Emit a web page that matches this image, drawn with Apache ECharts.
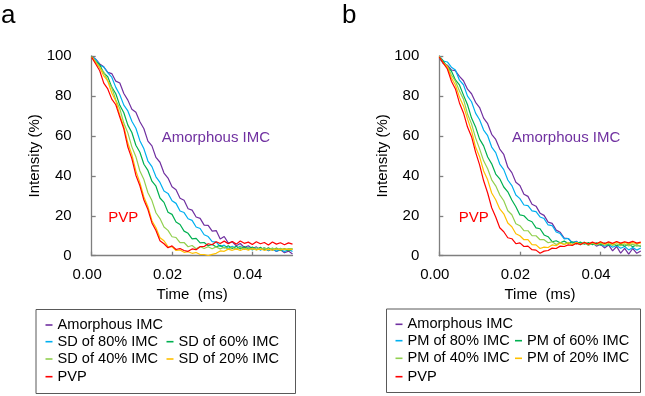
<!DOCTYPE html>
<html><head><meta charset="utf-8">
<script src="https://cdn.jsdelivr.net/npm/echarts@6/dist/echarts.min.js"></script>
<style>html,body{margin:0;padding:0;background:#fff}#c{width:645px;height:396px}</style>
</head><body><div id="c"></div>
<script>
// ---- data ----
const time = [0,0.001,0.002,0.003,0.004,0.005,0.006,0.007,0.008,0.009,0.010,0.011,0.012,0.013,0.014,0.015,0.016,0.017,0.018,0.019,0.020,0.021,0.022,0.023,0.024,0.025,0.026,0.027,0.028,0.029,0.030,0.031,0.032,0.033,0.034,0.035,0.036,0.037,0.038,0.039,0.040,0.041,0.042,0.043,0.044,0.045,0.046,0.047,0.048,0.049,0.050];

const namesA = ['Amorphous IMC','SD of 80% IMC','SD of 60% IMC','SD of 40% IMC','SD of 20% IMC','PVP'];
const namesB = ['Amorphous IMC','PM of 80% IMC','PM of 60% IMC','PM of 40% IMC','PM of 20% IMC','PVP'];

const aAmorph = [100,98.4,96.0,94.6,91.8,91.2,87.4,86.5,81.2,77.9,73.3,71.8,67.1,63.6,57.4,55.0,49.2,46.8,41.4,38.9,34.5,33.0,28.8,27.8,23.5,22.8,19.4,18.7,15.3,15.2,12.3,12.6,8.4,9.6,6.3,7.0,5.0,6.1,4.1,5.0,3.5,4.4,3.0,3.9,2.5,3.5,2.1,3.0,1.5,2.3,0.9];
const aSD80 = [99.6,98.3,95.4,94.5,91.6,89.4,84.3,80.6,75.4,72.5,67.3,63.8,57.6,53.5,47.4,44.6,39.5,36.7,32.4,31.2,27.5,26.2,22.4,21.6,18.5,17.7,14.4,13.6,10.5,9.6,7.0,6.8,4.6,5.3,3.6,4.7,3.5,4.8,3.2,4.4,2.9,4.1,2.8,3.9,2.6,3.7,2.2,3.4,2.0,3.3,2.1];
const aSD60 = [99.8,97.2,95.6,91.5,89.6,84.4,81.1,75.3,71.6,65.4,61.7,55.3,51.8,45.8,42.7,37.3,34.8,28.9,26.7,21.8,20.7,16.9,15.6,12.3,11.2,8.4,8.7,6.4,6.6,5.0,5.7,4.4,5.2,3.9,5.0,3.6,4.7,3.4,4.6,3.2,4.4,3.0,4.2,2.9,4.0,2.7,3.8,2.6,3.6,2.5,3.4];
const aSD40 = [99.5,97.4,94.0,92.0,87.5,84.1,78.0,73.6,66.4,61.5,54.5,49.6,42.4,38.1,31.5,27.6,21.5,18.6,14.4,12.7,9.5,9.1,6.5,6.6,4.5,5.1,3.5,4.6,3.6,4.5,3.5,4.4,3.4,4.3,3.3,4.2,3.2,4.3,3.1,4.1,3.0,4.0,3.1,3.9,2.9,3.8,3.0,3.7,2.9,3.6,3.5];
const aSD20 = [99.7,96.6,94.4,90.0,87.5,81.5,77.5,70.4,64.6,56.4,50.6,42.5,36.6,29.4,24.5,17.5,14.0,9.0,7.5,4.6,4.4,2.6,2.9,1.7,2.0,1.2,1.6,0.6,0.6,0.1,0.7,1.2,2.4,2.2,3.3,2.7,3.4,2.6,3.5,2.8,3.6,2.9,3.4,2.7,3.3,2.8,3.5,2.9,3.4,3.0,3.2];
const aPVP = [99.3,96.0,92.6,86.4,83.5,78.4,75.6,69.4,63.5,54.4,48.6,40.3,35.0,27.9,23.1,16.4,12.6,7.5,6.0,4.0,4.9,3.1,3.6,2.6,2.2,3.4,3.0,4.5,4.6,6.0,5.5,7.0,6.1,7.3,6.0,7.1,5.8,7.4,6.2,6.8,5.6,7.0,6.0,6.6,5.4,6.9,5.8,6.5,5.5,6.4,5.8];

const bAmorph = [99.0,96.2,95.4,93.0,92.6,89.8,87.6,83.4,81.1,76.8,74.2,68.9,66.1,60.8,58.2,53.4,50.7,44.3,41.6,36.8,35.2,30.8,29.7,25.8,24.8,21.3,20.2,16.8,16.2,12.8,11.7,8.8,8.6,6.4,7.2,5.5,6.6,5.4,6.5,4.8,5.7,3.9,5.4,2.4,4.6,1.3,3.7,0.8,3.6,1.2,2.4];
const bPM80 = [100,97.5,97.0,94.4,93.0,87.9,85.6,79.9,77.1,71.4,68.1,62.9,60.1,54.4,51.6,45.9,43.1,37.9,35.1,30.4,28.6,25.4,25.1,22.4,22.1,19.4,18.6,15.4,15.1,11.9,11.1,8.4,8.6,6.4,7.1,5.7,6.8,5.4,6.6,5.2,6.1,4.7,5.6,4.2,5.1,3.7,4.6,2.9,4.1,2.8,3.9];
const bPM60 = [99.6,97.4,94.5,92.5,88.0,85.5,80.4,75.6,68.9,64.5,58.4,55.0,49.4,46.0,40.9,38.5,34.4,32.0,27.9,24.5,20.4,20.0,17.9,17.0,13.9,13.5,10.4,9.5,7.0,7.5,6.5,7.3,6.1,7.0,5.9,6.8,5.7,6.6,5.5,6.5,5.3,6.3,5.1,6.1,5.0,5.8,4.7,5.7,4.5,5.5,4.6];
const bPM40 = [99.4,96.6,94.9,90.5,87.4,82.5,78.4,71.0,66.0,59.0,53.5,47.5,43.5,38.0,35.0,30.5,27.5,22.5,20.5,16.0,15.0,12.5,12.5,10.0,10.0,8.0,8.0,6.5,7.0,5.6,6.5,5.7,6.6,5.4,6.5,5.5,6.4,5.3,6.3,5.4,6.2,5.2,6.1,5.1,6.0,5.0,5.9,4.9,5.8,4.8,5.2];
const bPM20 = [99.8,96.5,94.5,89.0,85.5,79.4,75.0,68.5,62.6,54.4,49.6,42.4,38.0,31.4,28.0,23.4,21.0,16.4,14.5,11.0,10.0,8.0,8.0,5.5,5.4,3.6,4.3,4.1,5.4,5.0,6.4,5.6,6.5,5.6,6.6,5.7,6.7,5.8,6.6,5.9,6.8,5.7,6.6,5.8,6.9,5.9,6.7,5.8,6.6,5.9,6.4];
const bPVP = [99.5,96.4,93.5,87.4,83.5,76.5,71.5,64.4,59.6,51.9,45.5,37.5,31.4,24.0,19.4,14.0,12.0,9.0,8.5,6.0,6.4,4.6,4.8,3.0,2.8,1.2,2.3,2.6,3.8,3.6,4.8,4.6,5.4,5.1,6.2,5.6,6.6,5.8,6.8,6.0,7.0,6.1,6.9,6.2,7.1,6.3,7.0,6.4,7.2,6.3,6.8];

const xTicks = [0, 0.02, 0.04];
const xTickLabels = ['0.00', '0.02', '0.04'];
const yTicks = [0, 20, 40, 60, 80, 100];

// ---- styles ----
const colors = ['#7030A0','#00B0F0','#00B050','#92D050','#FFC000','#FF0000'];
const FONT = 'Liberation Sans, Arial, sans-serif';
const valsA = [aAmorph,aSD80,aSD60,aSD40,aSD20,aPVP];
const valsB = [bAmorph,bPM80,bPM60,bPM40,bPM20,bPVP];

function mkSeries(names, vals, gi){
  return names.map((n,i)=>({
    name:n, type:'line', xAxisIndex:gi, yAxisIndex:gi, showSymbol:false, symbol:'none',
    animation:false, color:colors[i], lineStyle:{width:1.2, color:colors[i]},
    data: time.map((t,k)=>[t, vals[i][k]])
  }));
}
const axisCol = '#7f7f7f';
function xAx(gi){
  return {type:'value', gridIndex:gi, min:0, max:0.05,
    name:'Time  (ms)', nameLocation:'middle', nameGap:31,
    nameTextStyle:{fontFamily:FONT, fontSize:15, color:'#000'},
    axisLine:{lineStyle:{color:axisCol, width:1.3}},
    axisTick:{inside:true, length:4, customValues:xTicks, lineStyle:{color:axisCol, width:1.3}},
    axisLabel:{customValues:xTicks, formatter:v=>xTickLabels[xTicks.findIndex(x=>Math.abs(x-v)<1e-9)] ?? '',
      fontFamily:FONT, fontSize:15, color:'#000', margin:12, padding:[0,9,0,0]},
    splitLine:{show:false}};
}
function yAx(gi){
  return {type:'value', gridIndex:gi, min:0, max:100, interval:20,
    name:'Intensity (%)', nameLocation:'middle', nameGap:49,
    nameTextStyle:{fontFamily:FONT, fontSize:15, color:'#000'},
    axisLine:{show:true, lineStyle:{color:axisCol, width:1.3}},
    axisTick:{show:true, inside:true, length:4, lineStyle:{color:axisCol, width:1.3}},
    axisLabel:{fontFamily:FONT, fontSize:15, color:'#000', margin:20},
    splitLine:{show:false}};
}
function leg(name, left, top){
  return {data:[name], left:left, top:top, padding:0, itemWidth:7, itemHeight:1.6, icon:'rect',
    selectedMode:false, textStyle:{fontFamily:FONT, fontSize:14.6, color:'#000', lineHeight:16}};
}
const rowsA = [317, 333.7, 351, 368.7];
const rowsB = [316.3, 332.7, 350.3, 368.7];
const legends = [
  leg(namesA[0],45.5,rowsA[0]), leg(namesA[1],45.5,rowsA[1]), leg(namesA[2],166.5,rowsA[1]),
  leg(namesA[3],45.5,rowsA[2]), leg(namesA[4],166.5,rowsA[2]), leg(namesA[5],45.5,rowsA[3]),
  leg(namesB[0],395.5,rowsB[0]), leg(namesB[1],395.5,rowsB[1]), leg(namesB[2],515,rowsB[1]),
  leg(namesB[3],395.5,rowsB[2]), leg(namesB[4],515,rowsB[2]), leg(namesB[5],395.5,rowsB[3])
];
function txt(x,y,s,fill,size,va){
  return {type:'text', x:x, y:y, silent:true, style:{text:s, fill:fill, font:size+'px '+FONT, verticalAlign:va||'middle', align:'left'}};
}
const chart = echarts.init(document.getElementById('c'), null, {renderer:'canvas'});
chart.setOption({
  animation:false,
  backgroundColor:'#fff',
  grid:[
    {left:91.7, top:56, width:200.8, height:199.7, containLabel:false},
    {left:439.3, top:56, width:201.5, height:199.7, containLabel:false}
  ],
  xAxis:[xAx(0), xAx(1)],
  yAxis:[yAx(0), yAx(1)],
  legend: legends,
  series:[...mkSeries(namesA, valsA, 0), ...mkSeries(namesB, valsB, 1)],
  graphic:[
    {type:'rect', shape:{x:36, y:309.5, width:259.5, height:84}, style:{fill:'none', stroke:'#595959', lineWidth:1}, silent:true},
    {type:'rect', shape:{x:386.5, y:309, width:254, height:83.5}, style:{fill:'none', stroke:'#595959', lineWidth:1}, silent:true},
    txt(161.7,138.3,'Amorphous IMC',colors[0],15),
    txt(108.3,218.3,'PVP',colors[5],15),
    txt(512,138,'Amorphous IMC',colors[0],15),
    txt(458.7,218,'PVP',colors[5],15),
    txt(1,16,'a','#000',26),
    txt(342,15.5,'b','#000',26)
  ]
});
</script></body></html>
